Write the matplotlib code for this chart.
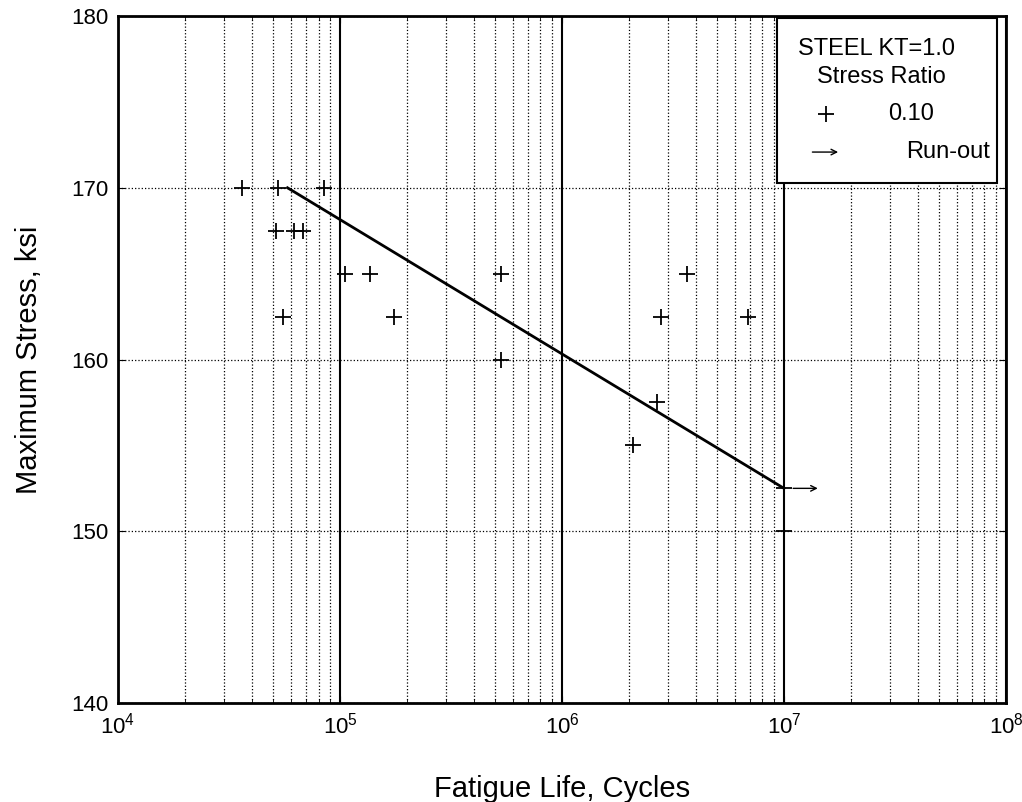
#!/usr/bin/env python3

import matplotlib
matplotlib.use('Agg')
import matplotlib.pyplot as plt
from matplotlib.patches import Rectangle
from matplotlib.ticker import LogLocator, NullFormatter

plt.rcParams['font.family'] = ['Liberation Sans', 'DejaVu Sans']
plt.rcParams['mathtext.fontset'] = 'custom'
plt.rcParams['mathtext.rm'] = 'Liberation Sans'
plt.rcParams['mathtext.it'] = 'Liberation Sans'

# test data, stress ratio 0.10
life = [3.62e4, 5.26e4, 8.47e4, 5.13e4, 6.22e4, 6.83e4, 5.52e4, 1.05e5, 1.37e5,
        1.75e5, 5.3e5, 5.3e5, 3.64e6, 2.78e6, 6.9e6, 2.67e6, 2.09e6, 1e7, 1e7]
stress = [170, 170, 170, 167.5, 167.5, 167.5, 162.5, 165, 165,
          162.5, 165, 160, 165, 162.5, 162.5, 157.5, 155, 152.5, 150]

# run-out arrow
runout_life = [1.1e7, 1.42e7]
runout_stress = 152.5

# fitted curve
fit_life = [5.8e4, 1e7]
fit_stress = [170, 152.5]

fig = plt.figure(figsize=(10.22, 8.02), dpi=100)
ax = fig.add_axes([0.1155, 0.1234, 0.8688, 0.8566])

ax.set_xscale('log')
ax.set_xlim(1e4, 1e8)
ax.set_ylim(140, 180)
ax.set_yticks([140, 150, 160, 170, 180])
ax.xaxis.set_major_locator(LogLocator(base=10, numticks=10))
ax.xaxis.set_minor_locator(LogLocator(base=10, subs=range(2, 10), numticks=100))
ax.xaxis.set_minor_formatter(NullFormatter())

ax.grid(which='major', axis='x', color='black', linestyle='-', linewidth=1.5)
ax.grid(which='minor', axis='x', color='black', linestyle=':', linewidth=0.9)
ax.grid(which='major', axis='y', color='black', linestyle=':', linewidth=0.9)
ax.set_axisbelow(True)

ax.plot(fit_life, fit_stress, color='black', linewidth=2, zorder=3)
ax.plot(life, stress, linestyle='none', marker='+', markersize=11,
        markeredgewidth=1.3, color='black', zorder=4)
ax.annotate('', xy=(runout_life[1], runout_stress), xytext=(runout_life[0], runout_stress),
            arrowprops=dict(arrowstyle='->', color='black', linewidth=1, shrinkA=0, shrinkB=0))

for side in ax.spines.values():
    side.set_linewidth(2)
ax.tick_params(which='both', direction='in', top=True, right=True, labelsize=16, pad=7)
ax.tick_params(which='major', length=5)
ax.tick_params(which='minor', length=3)

ax.set_xlabel('Fatigue Life, Cycles', fontsize=21, labelpad=26)
ax.set_ylabel('Maximum Stress, ksi', fontsize=21, labelpad=20)

# hand-made legend box
ax.add_patch(Rectangle((0.742, 0.757), 0.248, 0.240, transform=ax.transAxes,
                       facecolor='white', edgecolor='black', linewidth=1.5, zorder=5))
tx = ax.transAxes
ax.text(0.854, 0.952, 'STEEL KT=1.0', transform=tx, fontsize=17, ha='center', va='center', zorder=6)
ax.text(0.860, 0.911, 'Stress Ratio', transform=tx, fontsize=17, ha='center', va='center', zorder=6)
ax.plot([0.797], [0.858], transform=tx, marker='+', markersize=11, markeredgewidth=1.3,
        color='black', zorder=6)
ax.text(0.893, 0.858, '0.10', transform=tx, fontsize=17, ha='center', va='center', zorder=6)
ax.annotate('', xy=(0.811, 0.802), xytext=(0.782, 0.802), xycoords=tx,
            arrowprops=dict(arrowstyle='->', color='black', linewidth=1, shrinkA=0, shrinkB=0),
            zorder=6)
ax.text(0.982, 0.802, 'Run-out', transform=tx, fontsize=17, ha='right', va='center', zorder=6)

fig.savefig('out.png', dpi=100)
